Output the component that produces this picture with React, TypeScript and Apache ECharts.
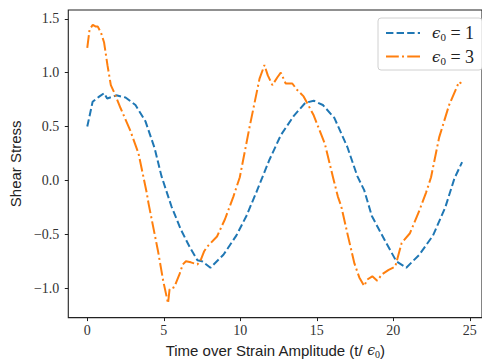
import React, { useEffect, useRef } from "react";
import * as echarts from "echarts";

const blueX = [0, 0.35, 0.8, 1.1, 1.3, 1.9, 2.5, 3.15, 3.8, 4.4, 4.85, 5.5, 6.1, 6.7, 7.2, 7.5, 8.05, 8.9, 9.75, 10.4, 11.05, 11.9, 12.65, 13.5, 14.25, 14.8, 15.4, 16.15, 17.0, 17.65, 18.1, 18.6, 19.5, 20.2, 20.85, 21.7, 22.6, 23.4, 24.0, 24.5];
const blueY = [0.5, 0.73, 0.78, 0.81, 0.76, 0.79, 0.77, 0.7, 0.55, 0.3, 0.04, -0.24, -0.45, -0.62, -0.74, -0.75, -0.81, -0.69, -0.51, -0.33, -0.11, 0.19, 0.42, 0.6, 0.72, 0.74, 0.7, 0.58, 0.31, 0.04, -0.09, -0.33, -0.57, -0.75, -0.81, -0.69, -0.51, -0.25, 0.02, 0.17];

const orangeX = [0, 0.15, 0.36, 0.53, 0.68, 0.9, 1.1, 1.32, 1.54, 1.75, 2.18, 2.82, 3.35, 3.88, 4.0, 4.63, 4.96, 5.28, 5.38, 5.7, 5.8, 6.03, 6.24, 6.45, 6.77, 7.2, 7.4, 7.63, 7.84, 8.48, 9.0, 9.55, 9.97, 10.6, 11.26, 11.58, 11.8, 12.1, 12.44, 12.65, 12.97, 13.4, 13.72, 14.14, 14.78, 15.53, 16.06, 16.38, 16.6, 17.03, 17.46, 17.78, 18.1, 18.3, 18.63, 18.95, 19.27, 19.7, 20.13, 20.34, 20.55, 21.09, 21.73, 22.15, 22.47, 23.0, 23.65, 24.3, 24.45];
const orangeY = [1.23, 1.4, 1.445, 1.43, 1.43, 1.37, 1.28, 1.07, 0.885, 0.82, 0.67, 0.46, 0.25, -0.11, -0.21, -0.66, -0.93, -1.14, -1.01, -0.99, -0.95, -0.87, -0.78, -0.75, -0.76, -0.78, -0.745, -0.66, -0.615, -0.52, -0.36, -0.15, 0.03, 0.49, 0.945, 1.07, 0.975, 0.885, 0.96, 1.0, 0.9, 0.9, 0.84, 0.78, 0.61, 0.34, 0.03, -0.15, -0.24, -0.51, -0.77, -0.9, -0.98, -0.92, -0.89, -0.93, -0.87, -0.83, -0.8, -0.69, -0.58, -0.49, -0.27, -0.11, 0.03, 0.4, 0.7, 0.915, 0.9];

const xTicks = [0, 5, 10, 15, 20, 25];
const yTicks = [-1.0, -0.5, 0.0, 0.5, 1.0, 1.5];
const seriesNames = ["ϵ₀ = 1", "ϵ₀ = 3"];
const seriesValues = ["1", "3"];

const zip = (xs: number[], ys: number[]) => xs.map((x, i) => [x, ys[i]]);

export default function App() {
  const ref = useRef<HTMLDivElement>(null);
  useEffect(() => {
    if (!ref.current) return;
    const chart = echarts.init(ref.current, undefined, { renderer: "svg" });
    const serif = "'Liberation Serif', serif";
    const sans = "'Liberation Sans', sans-serif";
    chart.setOption({
      animation: false,
      grid: {
        left: 68,
        top: 10,
        width: 422,
        height: 314,
        show: true,
        borderColor: "#222",
        borderWidth: 1.1,
        backgroundColor: "transparent",
      },
      legend: {
        orient: "vertical",
        left: 378,
        top: 18,
        width: 101,
        padding: [6, 8, 3, 7],
        itemGap: 4,
        itemWidth: 34,
        itemHeight: 20,
        backgroundColor: "#fff",
        borderColor: "#d0d0d0",
        borderWidth: 1,
        borderRadius: 3,
        itemStyle: { opacity: 0 },
        data: seriesNames,
        formatter: (name: string) => {
          const v = seriesValues[seriesNames.indexOf(name)];
          return `{e|ϵ}{s|0}{n| = ${v}}`;
        },
        textStyle: {
          padding: [0, 0, 0, 7],
          rich: {
            e: { fontFamily: "'DejaVu Serif', serif", fontStyle: "italic", fontSize: 15, color: "#222", lineHeight: 21, verticalAlign: "middle" },
            s: { fontFamily: serif, fontSize: 11, color: "#222", lineHeight: 21, verticalAlign: "bottom", padding: [0, 0, 1, 0] },
            n: { fontFamily: serif, fontSize: 18, color: "#222", lineHeight: 21, verticalAlign: "middle" },
          },
        },
      },
      xAxis: {
        type: "value",
        min: -1.24,
        max: 25.8,
        name: "{a|Time over Strain Amplitude (t/ }{e|ϵ}{s|0}{a|)}",
        nameLocation: "middle",
        nameGap: 22,
        nameTextStyle: {
          rich: {
            a: { fontFamily: sans, fontSize: 15, color: "#222", lineHeight: 18 },
            e: { fontFamily: "'DejaVu Serif', serif", fontStyle: "italic", fontSize: 14, color: "#222", lineHeight: 18 },
            s: { fontFamily: serif, fontSize: 10, color: "#222", lineHeight: 18, verticalAlign: "bottom" },
          },
        },
        axisLine: { show: false, onZero: false },
        splitLine: { show: false },
        axisTick: { show: true, length: 3.5, customValues: xTicks, lineStyle: { color: "#222", width: 1 } },
        axisLabel: {
          customValues: xTicks,
          margin: 6,
          fontFamily: serif,
          fontSize: 14,
          color: "#333",
          formatter: (v: number) => String(Math.round(v)),
        },
      },
      yAxis: {
        type: "value",
        min: -1.273,
        max: 1.582,
        name: "Shear Stress",
        nameLocation: "middle",
        nameGap: 44,
        nameRotate: 90,
        nameTextStyle: { fontFamily: sans, fontSize: 15, color: "#222" },
        axisLine: { show: false, onZero: false },
        splitLine: { show: false },
        axisTick: { show: true, length: 3.5, customValues: yTicks, lineStyle: { color: "#222", width: 1 } },
        axisLabel: {
          customValues: yTicks,
          margin: 9,
          fontFamily: serif,
          fontSize: 14,
          color: "#333",
          formatter: (v: number) => (v < -1e-9 ? "−" : "") + Math.abs(v).toFixed(1),
        },
      },
      series: [
        {
          name: seriesNames[0],
          type: "line",
          data: zip(blueX, blueY),
          showSymbol: false,
          symbol: "none",
          smooth: false,
          lineStyle: { color: "#1f77b4", width: 2, type: [7.4, 3.2] },
          itemStyle: { color: "#1f77b4" },
        },
        {
          name: seriesNames[1],
          type: "line",
          data: zip(orangeX, orangeY),
          showSymbol: false,
          symbol: "none",
          smooth: false,
          lineStyle: { color: "#ff7f0e", width: 2, type: [12.8, 3.2, 2, 3.2] },
          itemStyle: { color: "#ff7f0e" },
        },
      ],
    });
    return () => chart.dispose();
  }, []);
  return <div ref={ref} style={{ position: "fixed", left: 0, top: 0, width: 482, height: 364, background: "#fff" }} />;
}
